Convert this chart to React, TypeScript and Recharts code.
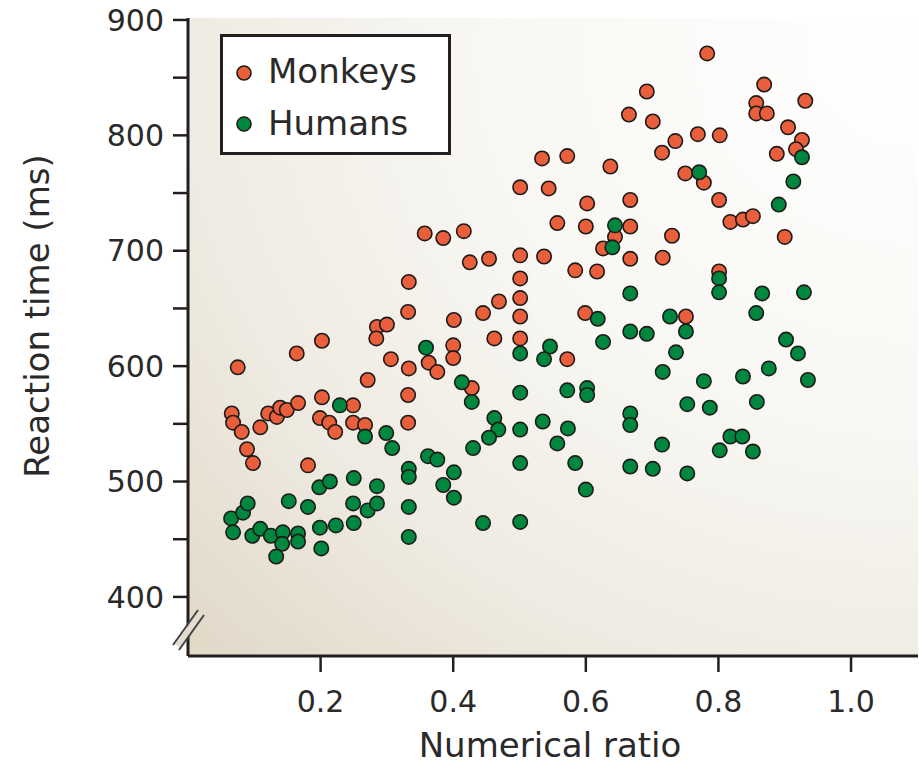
import React from 'react';
import { ScatterChart, Scatter, XAxis, YAxis, CartesianGrid, Legend } from 'recharts';

// ratio / reaction time (ms)
const monkeyRatio = [
  0.066, 0.068, 0.081, 0.089, 0.098, 0.075, 0.109, 0.121, 0.134, 0.139,
  0.149, 0.166, 0.164, 0.202, 0.181, 0.202, 0.199, 0.213, 0.222, 0.249,
  0.249, 0.267, 0.271, 0.285, 0.300, 0.284, 0.306, 0.333, 0.333, 0.332,
  0.332, 0.332, 0.363, 0.376, 0.357, 0.385, 0.416, 0.401, 0.400, 0.400,
  0.425, 0.454, 0.445, 0.469, 0.462, 0.428, 0.501, 0.544, 0.501, 0.537,
  0.501, 0.501, 0.501, 0.501, 0.557, 0.534, 0.572, 0.572, 0.602, 0.600,
  0.584, 0.617, 0.599, 0.637, 0.665, 0.701, 0.692, 0.667, 0.667, 0.644,
  0.626, 0.667, 0.716, 0.730, 0.715, 0.735, 0.769, 0.750, 0.778, 0.801,
  0.751, 0.802, 0.783, 0.801, 0.818, 0.837, 0.852, 0.869, 0.857, 0.857,
  0.873, 0.905, 0.931, 0.926, 0.917, 0.888, 0.900,
];
const monkeyRT = [
  559, 551, 543, 528, 516, 599, 547, 559, 556, 564,
  562, 568, 611, 622, 514, 573, 555, 551, 543, 566,
  551, 549, 588, 634, 636, 624, 606, 598, 673, 647,
  575, 551, 603, 595, 715, 711, 717, 640, 618, 607,
  690, 693, 646, 656, 624, 581, 755, 754, 696, 695,
  676, 659, 643, 624, 724, 780, 782, 606, 741, 721,
  683, 682, 646, 773, 818, 812, 838, 744, 721, 712,
  702, 693, 694, 713, 785, 795, 801, 767, 759, 744,
  643, 800, 871, 682, 725, 727, 730, 844, 828, 819,
  819, 807, 830, 796, 788, 784, 712,
];
const humanRatio = [
  0.065, 0.083, 0.090, 0.068, 0.097, 0.109, 0.125, 0.143, 0.166, 0.142,
  0.166, 0.133, 0.152, 0.181, 0.199, 0.223, 0.250, 0.201, 0.198, 0.214,
  0.250, 0.285, 0.249, 0.271, 0.285, 0.229, 0.267, 0.333, 0.333, 0.333,
  0.333, 0.299, 0.308, 0.359, 0.362, 0.376, 0.385, 0.401, 0.401, 0.413,
  0.428, 0.430, 0.445, 0.462, 0.468, 0.454, 0.501, 0.501, 0.501, 0.501,
  0.501, 0.546, 0.537, 0.535, 0.557, 0.572, 0.573, 0.584, 0.600, 0.602,
  0.602, 0.618, 0.626, 0.644, 0.640, 0.667, 0.667, 0.692, 0.667, 0.667,
  0.667, 0.701, 0.715, 0.716, 0.727, 0.736, 0.751, 0.753, 0.753, 0.771,
  0.778, 0.787, 0.801, 0.801, 0.802, 0.818, 0.836, 0.852, 0.837, 0.857,
  0.858, 0.866, 0.876, 0.891, 0.902, 0.913, 0.920, 0.926, 0.929, 0.935,
];
const humanRT = [
  468, 473, 481, 456, 453, 459, 453, 456, 455, 446,
  448, 435, 483, 478, 460, 462, 464, 442, 495, 500,
  503, 496, 481, 475, 481, 566, 539, 511, 504, 478,
  452, 542, 529, 616, 522, 519, 497, 508, 486, 586,
  569, 529, 464, 555, 545, 538, 611, 577, 545, 516,
  465, 617, 606, 552, 533, 579, 546, 516, 493, 581,
  575, 641, 621, 722, 703, 663, 630, 628, 559, 549,
  513, 511, 532, 595, 643, 612, 630, 567, 507, 768,
  587, 564, 676, 664, 527, 539, 539, 526, 591, 646,
  569, 663, 598, 740, 623, 760, 611, 781, 664, 588,
];

const xTicks = [0.2, 0.4, 0.6, 0.8, 1.0];
const yTicks = [400, 450, 500, 550, 600, 650, 700, 750, 800, 850, 900];

const monkeys = monkeyRatio.map((r, i) => ({ ratio: r, rt: monkeyRT[i] }));
const humans = humanRatio.map((r, i) => ({ ratio: r, rt: humanRT[i] }));

const ORANGE = '#E95F3C';
const GREEN = '#00873F';
const INK = '#231F20';
const FONT = '"DejaVu Sans", sans-serif';

const dot = (color: string) => (props: any) =>
  <circle cx={props.cx} cy={props.cy} r={7.2} fill={color} stroke="#1d1a17" strokeWidth={1.6} />;

const LegendBox = () => (
  <div style={{ width: 231, height: 121, boxSizing: 'border-box', border: `3px solid ${INK}`, background: '#fff' }}>
    <svg width={225} height={115} style={{ display: 'block' }}>
      {[['Monkeys', ORANGE], ['Humans', GREEN]].map(([name, color], i) => (
        <g key={name}>
          <circle cx={21} cy={36 + i * 51} r={7} fill={color} stroke="#1d1a17" strokeWidth={1.6} />
          <text x={45} y={46 + i * 52} fontSize={34} fontFamily={FONT} fill="#2a2a2a">{name}</text>
        </g>
      ))}
    </svg>
  </div>
);

export default function App() {
  return (
    <div style={{ position: 'absolute', left: 0, top: 0, width: 919, height: 768, background: '#fff' }}>
      <ScatterChart width={919} height={768} margin={{ top: 18, right: 1, bottom: 0, left: 0 }}>
        <defs>
          <radialGradient id="bgGrad" cx="1" cy="0.05" r="1.35">
            <stop offset="0" stopColor="#FFFFFF" />
            <stop offset="0.45" stopColor="#F8F7F3" />
            <stop offset="0.75" stopColor="#EFEBE2" />
            <stop offset="1" stopColor="#E2D9C9" />
          </radialGradient>
        </defs>
        <CartesianGrid fill="url(#bgGrad)" horizontal={false} vertical={false} />
        <XAxis
          type="number" dataKey="ratio" domain={[0, 1.101]} ticks={xTicks}
          allowDataOverflow height={112}
          tickFormatter={(v: number) => v.toFixed(1)}
          tick={{ fill: '#2a2a2a', fontSize: 30, fontFamily: FONT }}
          tickSize={16} tickMargin={19}
          tickLine={{ stroke: INK, strokeWidth: 2.5 }}
          axisLine={{ stroke: INK, strokeWidth: 3 }}
          label={{
            content: () => (
              <text x={550} y={757} textAnchor="middle" fontSize={34} fontFamily={FONT} fill="#2a2a2a">
                Numerical ratio
              </text>
            ),
          }}
        />
        <YAxis
          type="number" dataKey="rt" domain={[348.8, 901.7]} ticks={yTicks}
          allowDataOverflow width={188}
          tickFormatter={(v: number) => (v % 100 === 0 ? String(v) : '')}
          tick={{ fill: '#2a2a2a', fontSize: 30, fontFamily: FONT }}
          tickSize={15} tickMargin={9}
          tickLine={{ stroke: INK, strokeWidth: 2.5 }}
          axisLine={{ stroke: INK, strokeWidth: 3 }}
          label={{
            content: () => (
              <text x={49} y={316} transform="rotate(-90 49 316)" textAnchor="middle"
                fontSize={34} fontFamily={FONT} fill="#2a2a2a">
                Reaction time (ms)
              </text>
            ),
          }}
        />
        <Legend
          verticalAlign="middle" align="center" layout="horizontal"
          content={() => <LegendBox />}
          wrapperStyle={{ position: 'absolute', left: 220, top: 34, width: 231, height: 121 }}
        />
        <Scatter name="Monkeys" data={monkeys} fill={ORANGE} shape={dot(ORANGE)} isAnimationActive={false} />
        <Scatter name="Humans" data={humans} fill={GREEN} shape={dot(GREEN)} isAnimationActive={false} />
      </ScatterChart>
      <svg width={919} height={768} style={{ position: 'absolute', left: 0, top: 0, pointerEvents: 'none' }}>
        <polygon points="175,644 198,611 204,615 180,648" fill="#E4DDCF" />
        <line x1={173} y1={645} x2={198} y2={610} stroke="#444" strokeWidth={2} />
        <line x1={179} y1={650} x2={204} y2={615} stroke="#444" strokeWidth={2} />
      </svg>
    </div>
  );
}
